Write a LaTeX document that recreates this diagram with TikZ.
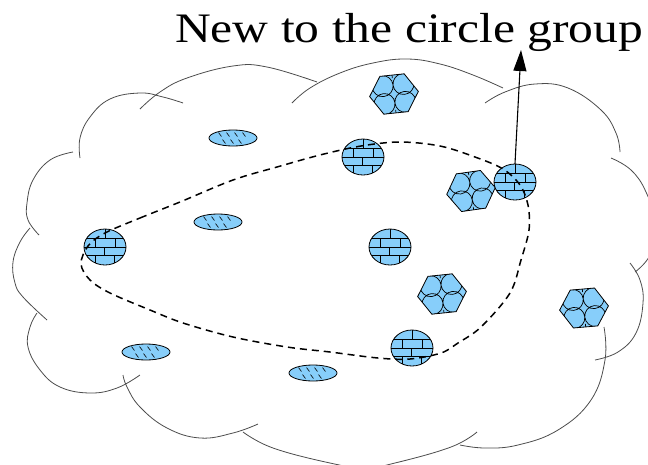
\documentclass[tikz,border=0pt]{standalone}
\usepackage{fontspec}
\setmainfont{Liberation Serif}
\usetikzlibrary{arrows.meta,shapes.geometric}
\definecolor{skyb}{RGB}{135,206,250}
\tikzset{
  cloudarc/.style={draw=black!70, line width=0.8pt},
  outline/.style={draw=black, line width=0.8pt},
  wall/.style={draw=black, line width=0.7pt},
  loopline/.style={draw=black, line width=1.5pt, dash pattern=on 7pt off 5pt},
  % ball filled with a brick wall
  brickball/.pic={
    \node[ellipse, fill=skyb, minimum width=42pt, minimum height=36pt, inner sep=0pt] (-body) at (0,0) {};
    \begin{scope}
      \clip (0,0) ellipse[x radius=21, y radius=18];
      \draw[wall] (-25,-8.5) -- (25,-8.5) (-25,0) -- (25,0) (-25,8.5) -- (25,8.5);
      \draw[wall] (0,-20) -- (0,-8.5)
                  (-10,-8.5) -- (-10,0) (10,-8.5) -- (10,0)
                  (-1,0) -- (-1,8.5)
                  (-10,8.5) -- (-10,20) (9,8.5) -- (9,20);
    \end{scope}
    \draw[outline] (0,0) ellipse[x radius=21, y radius=18];
  },
  % hexagon packed with four circles
  packhex/.pic={
    \coordinate (-c) at (0,0);
    \fill[skyb] (24.5,0) -- (12.2,19) -- (-12.2,19) -- (-24.5,0) -- (-12.2,-19) -- (12.2,-19) -- cycle;
    \begin{scope}
      \clip (24.5,0) -- (12.2,19) -- (-12.2,19) -- (-24.5,0) -- (-12.2,-19) -- (12.2,-19) -- cycle;
      \draw[wall] (-10.5,-9) circle[radius=10.5] (10.5,-9) circle[radius=10.5]
                  (-10.5,9) circle[radius=10.5] (10.5,9) circle[radius=10.5];
      \draw[wall] (0,-20) -- (0,-16) (0,20) -- (0,16);
    \end{scope}
    \draw[outline] (24.5,0) -- (12.2,19) -- (-12.2,19) -- (-24.5,0) -- (-12.2,-19) -- (12.2,-19) -- cycle;
  },
  % hatched oval
  hatchoval/.pic={
    \node[ellipse, draw=black, line width=0.8pt, fill=skyb, minimum width=48pt, minimum height=16pt, inner sep=0pt] (-body) at (0,0) {};
    \draw[black, line width=0.6pt]
      (-14.5,-5.5) -- (-11.5,-1.5) (-6.5,-5.5) -- (-3.5,-1.5) (1.5,-5.5) -- (4.5,-1.5) (9.5,-5.5) -- (12.5,-1.5)
      (-10.5,1.5) -- (-7.5,5.5) (-2.5,1.5) -- (0.5,5.5) (5.5,1.5) -- (8.5,5.5);
  }
}
\begin{document}
\begin{tikzpicture}[x=1pt, y=-1pt]
  \useasboundingbox (0,0) rectangle (648,464);
  \clip (0,0) rectangle (648,464);

  % cloud outline, one bump per arc
  \draw[cloudarc] plot[smooth, tension=0.7] coordinates {(80,158) (80,138) (90,117) (110,99) (140,93) (163,97) (183,103)};
  \draw[cloudarc] plot[smooth, tension=0.7] coordinates {(140,109) (160,92) (187,78) (233,66) (267,67) (317,82)};
  \draw[cloudarc] plot[smooth, tension=0.7] coordinates {(292,103) (310,88) (340,73) (373,63) (407,59) (440,64) (473,75) (503,88)};
  \draw[cloudarc] plot[smooth, tension=0.7] coordinates {(485,103) (505,92) (535,84) (568,88) (601,110) (616,133) (620,152)};
  \draw[cloudarc] plot[smooth, tension=0.7] coordinates {(611,158) (631,170) (646,192) (656,225) (650,255) (635,272)};
  \draw[cloudarc] plot[smooth, tension=0.7] coordinates {(630,263) (640,280) (643,303) (636,333) (618,352) (595,360)};
  \draw[cloudarc] plot[smooth, tension=0.7] coordinates {(604,327) (605,360) (591,400) (558,430) (518,445) (485,448) (460,445)};
  \draw[cloudarc] plot[smooth, tension=0.7] coordinates {(477,432) (451,447) (395,463) (365,468) (330,463) (273,448) (243,432)};
  \draw[cloudarc] plot[smooth, tension=0.7] coordinates {(123,375) (127,387) (140,407) (167,428) (200,438) (233,433) (258,424)};
  \draw[cloudarc] plot[smooth, tension=0.7] coordinates {(37,313) (30,327) (28,347) (40,370) (60,387) (90,393) (117,388) (140,375)};
  \draw[cloudarc] plot[smooth, tension=0.7] coordinates {(30,228) (20,242) (13,262) (15,283) (23,297) (47,320)};
  \draw[cloudarc] plot[smooth, tension=0.7] coordinates {(73,152) (50,160) (33,180) (27,203) (28,220) (39,235)};

  % hatched ovals
  \pic (o1) at (233,138) {hatchoval};
  \pic (o2) at (218,222) {hatchoval};
  \pic (o3) at (146,352) {hatchoval};
  \pic (o4) at (313,373) {hatchoval};

  % circle packings
  \pic[rotate=6] (h1) at (394,94) {packhex};
  \pic[rotate=8] (h2) at (471,191) {packhex};
  \pic[rotate=6] (h3) at (442,294) {packhex};
  \pic[rotate=5] (h4) at (584,308) {packhex};

  % brick balls
  \pic (ba) at (105,247) {brickball};
  \pic (bb) at (363,157) {brickball};
  \pic (bc) at (515,182) {brickball};
  \pic (bd) at (390,247) {brickball};
  \pic (be) at (412,348) {brickball};

  % the circle group boundary
  \draw[loopline] plot[smooth cycle, tension=0.55] coordinates {
    (105,233) (140,218) (180,202) (233,180) (277,167) (320,155) (361,146) (400,142)
    (440,146) (475,157) (503,169) (520,185) (528,205) (529,230) (521,260) (510,293)
    (481,327) (458,343) (441,353) (410,359) (378,358) (330,352) (287,347) (233,337)
    (183,323) (150,310) (110,293) (90,280) (81,264) (88,246)};

  % caption and arrow
  \node[anchor=base west, inner sep=0pt] (title) at (175,42)
    {\scalebox{1.18}[1]{\fontsize{42}{50}\selectfont New to the circle group}};
  \coordinate (tip) at (521,50);
  \draw[line width=1.1pt, -{Triangle[length=21pt, width=13pt]}] (bc-body.north) -- (tip);
\end{tikzpicture}
\end{document}
